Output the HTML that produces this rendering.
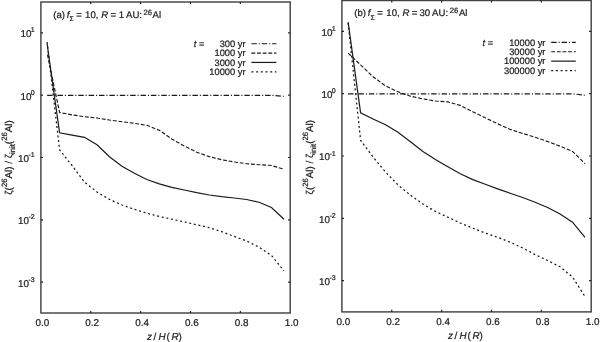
<!DOCTYPE html>
<html><head><meta charset="utf-8"><style>
html,body{margin:0;padding:0;background:#fff;}
svg{display:block;filter:grayscale(1);}
text{font-family:"Liberation Sans",sans-serif;fill:#222;text-rendering:geometricPrecision;stroke:#222;stroke-width:0.22px;}
.t{font-size:9.9px;}
.yt{font-size:9.9px;}
.sup{font-size:7px;}
.sup2{font-size:7.6px;}
.sub{font-size:6.8px;}
.yl{font-size:9.85px;}
.ys{font-size:7.7px;}
.lg{font-size:9.3px;}
.tt{font-size:9.6px;}
</style></head><body>
<svg width="600" height="342" viewBox="0 0 600 342">
<rect width="600" height="342" fill="#fff"/>
<rect x="40.90" y="2.00" width="249.30" height="311.00" fill="none" stroke="#444" stroke-width="1.45"/>
<path d="M40.90 32.90h2.1M290.20 32.90h-2.1" stroke="#222" stroke-width="1.2"/>
<path d="M40.90 95.20h2.1M290.20 95.20h-2.1" stroke="#222" stroke-width="1.2"/>
<path d="M40.90 157.50h2.1M290.20 157.50h-2.1" stroke="#222" stroke-width="1.2"/>
<path d="M40.90 219.80h2.1M290.20 219.80h-2.1" stroke="#222" stroke-width="1.2"/>
<path d="M40.90 282.10h2.1M290.20 282.10h-2.1" stroke="#222" stroke-width="1.2"/>
<path d="M90.76 313.00v-2.1M90.76 2.00v2.1" stroke="#222" stroke-width="1.2"/>
<path d="M140.62 313.00v-2.1M140.62 2.00v2.1" stroke="#222" stroke-width="1.2"/>
<path d="M190.48 313.00v-2.1M190.48 2.00v2.1" stroke="#222" stroke-width="1.2"/>
<path d="M240.34 313.00v-2.1M240.34 2.00v2.1" stroke="#222" stroke-width="1.2"/>
<text x="42.30" y="326.40" text-anchor="middle" class="t">0.0</text>
<text x="92.16" y="326.40" text-anchor="middle" class="t">0.2</text>
<text x="142.02" y="326.40" text-anchor="middle" class="t">0.4</text>
<text x="191.88" y="326.40" text-anchor="middle" class="t">0.6</text>
<text x="241.74" y="326.40" text-anchor="middle" class="t">0.8</text>
<text x="291.60" y="326.40" text-anchor="middle" class="t">1.0</text>
<text x="34.70" y="37.30" text-anchor="end" class="yt">10<tspan class="sup" dx="-0.6" dy="-4.9">1</tspan></text>
<text x="34.70" y="99.60" text-anchor="end" class="yt">10<tspan class="sup" dx="-0.6" dy="-4.9">0</tspan></text>
<text x="34.70" y="161.90" text-anchor="end" class="yt">10<tspan class="sup" dx="-0.6" dy="-4.9">-1</tspan></text>
<text x="34.70" y="224.20" text-anchor="end" class="yt">10<tspan class="sup" dx="-0.6" dy="-4.9">-2</tspan></text>
<text x="34.70" y="286.50" text-anchor="end" class="yt">10<tspan class="sup" dx="-0.6" dy="-4.9">-3</tspan></text>
<text x="147.10" y="339.90" class="t" font-style="italic">z</text>
<text x="153.50" y="339.90" class="t">/</text>
<text x="158.50" y="339.90" class="t" font-style="italic">H</text>
<text x="166.40" y="339.90" class="t">(</text>
<text x="171.40" y="339.90" class="t" font-style="italic">R</text>
<text x="178.40" y="339.90" class="t">)</text>
<text transform="translate(12.20,157.50) rotate(-90)" text-anchor="middle" class="yl">&#950;(<tspan class="ys" dy="-4.8">26</tspan><tspan dy="4.8">Al) / &#950;</tspan><tspan class="ys" dy="3.0">init</tspan><tspan dy="-3.0">(</tspan><tspan class="ys" dy="-4.8">26</tspan><tspan dy="4.8">Al)</tspan></text>
<polyline points="47.13,95.30 59.60,95.30 72.06,95.30 84.53,95.30 96.99,95.30 109.46,95.30 121.92,95.30 134.39,95.30 146.85,95.30 159.32,95.30 171.78,95.30 184.25,95.30 196.71,95.30 209.18,95.30 221.64,95.30 234.11,95.30 246.57,95.30 259.04,95.30 271.50,95.30 283.97,96.30" fill="none" stroke="#1a1a1a" stroke-width="1.15" stroke-dasharray="5.45 1.9 1.1 1.93"/>
<polyline points="47.13,53.00 59.60,112.50 72.06,114.90 84.53,116.70 96.99,118.00 109.46,120.00 121.92,121.70 134.39,123.30 146.85,125.30 159.32,130.30 171.78,139.00 184.25,146.00 196.71,152.20 209.18,156.60 221.64,159.70 234.11,162.00 246.57,163.70 259.04,164.70 271.50,165.50 283.97,169.20" fill="none" stroke="#1a1a1a" stroke-width="1.15" stroke-dasharray="3.85 1.8" stroke-dashoffset="-1.7"/>
<polyline points="47.13,44.00 59.60,132.80 72.06,135.10 84.53,137.30 96.99,144.70 109.46,156.80 121.92,166.30 134.39,173.30 146.85,179.50 159.32,183.90 171.78,187.40 184.25,190.00 196.71,192.70 209.18,195.00 221.64,196.70 234.11,198.00 246.57,199.50 259.04,202.20 271.50,207.50 283.97,219.20" fill="none" stroke="#1a1a1a" stroke-width="1.2"/>
<polyline points="47.13,42.00 59.60,149.80 72.06,165.50 84.53,182.20 96.99,192.00 109.46,199.40 121.92,205.00 134.39,209.30 146.85,213.20 159.32,216.50 171.78,219.20 184.25,221.90 196.71,224.80 209.18,227.60 221.64,231.70 234.11,236.40 246.57,241.00 259.04,247.20 271.50,255.50 283.97,270.80" fill="none" stroke="#1a1a1a" stroke-width="1.25" stroke-dasharray="2.0 2.7"/>
<text x="193.80" y="46.90" class="lg"><tspan font-style="italic">t</tspan> =</text>
<text x="245.50" y="46.90" text-anchor="end" class="lg">300 yr</text>
<path d="M251.40 43.70H276.40" fill="none" stroke="#1a1a1a" stroke-width="1.15" stroke-dasharray="5.45 1.9 1.1 1.93"/>
<text x="245.50" y="56.27" text-anchor="end" class="lg">1000 yr</text>
<path d="M251.40 53.07H276.40" fill="none" stroke="#1a1a1a" stroke-width="1.15" stroke-dasharray="3.85 1.8"/>
<text x="245.50" y="65.64" text-anchor="end" class="lg">3000 yr</text>
<path d="M251.40 62.44H276.40" fill="none" stroke="#1a1a1a" stroke-width="1.2"/>
<text x="245.50" y="75.01" text-anchor="end" class="lg">10000 yr</text>
<path d="M251.40 71.81H276.40" fill="none" stroke="#1a1a1a" stroke-width="1.25" stroke-dasharray="2.0 2.7"/>
<text x="53.20" y="18.00" class="tt">(a)</text>
<text x="66.70" y="18.00" class="tt" font-style="italic">f</text>
<text x="69.60" y="21.20" class="sub">&#931;</text>
<text x="76.20" y="18.00" class="tt">=</text>
<text x="85.05" y="18.00" class="tt">10,</text>
<text x="101.30" y="18.00" class="tt" font-style="italic">R</text>
<text x="110.50" y="18.00" class="tt">=</text>
<text x="118.80" y="18.00" class="tt">1</text>
<text x="126.00" y="18.00" class="tt">AU:</text>
<text x="143.50" y="14.70" class="sup2">26</text>
<text x="152.50" y="18.00" class="tt">Al</text>
<rect x="341.90" y="0.50" width="249.30" height="311.40" fill="none" stroke="#444" stroke-width="1.45"/>
<path d="M341.90 31.40h2.1M591.20 31.40h-2.1" stroke="#222" stroke-width="1.2"/>
<path d="M341.90 93.70h2.1M591.20 93.70h-2.1" stroke="#222" stroke-width="1.2"/>
<path d="M341.90 156.00h2.1M591.20 156.00h-2.1" stroke="#222" stroke-width="1.2"/>
<path d="M341.90 218.30h2.1M591.20 218.30h-2.1" stroke="#222" stroke-width="1.2"/>
<path d="M341.90 280.60h2.1M591.20 280.60h-2.1" stroke="#222" stroke-width="1.2"/>
<path d="M391.76 311.90v-2.1M391.76 0.50v2.1" stroke="#222" stroke-width="1.2"/>
<path d="M441.62 311.90v-2.1M441.62 0.50v2.1" stroke="#222" stroke-width="1.2"/>
<path d="M491.48 311.90v-2.1M491.48 0.50v2.1" stroke="#222" stroke-width="1.2"/>
<path d="M541.34 311.90v-2.1M541.34 0.50v2.1" stroke="#222" stroke-width="1.2"/>
<text x="343.30" y="325.30" text-anchor="middle" class="t">0.0</text>
<text x="393.16" y="325.30" text-anchor="middle" class="t">0.2</text>
<text x="443.02" y="325.30" text-anchor="middle" class="t">0.4</text>
<text x="492.88" y="325.30" text-anchor="middle" class="t">0.6</text>
<text x="542.74" y="325.30" text-anchor="middle" class="t">0.8</text>
<text x="592.60" y="325.30" text-anchor="middle" class="t">1.0</text>
<text x="335.70" y="35.80" text-anchor="end" class="yt">10<tspan class="sup" dx="-0.6" dy="-4.9">1</tspan></text>
<text x="335.70" y="98.10" text-anchor="end" class="yt">10<tspan class="sup" dx="-0.6" dy="-4.9">0</tspan></text>
<text x="335.70" y="160.40" text-anchor="end" class="yt">10<tspan class="sup" dx="-0.6" dy="-4.9">-1</tspan></text>
<text x="335.70" y="222.70" text-anchor="end" class="yt">10<tspan class="sup" dx="-0.6" dy="-4.9">-2</tspan></text>
<text x="335.70" y="285.00" text-anchor="end" class="yt">10<tspan class="sup" dx="-0.6" dy="-4.9">-3</tspan></text>
<text x="448.10" y="338.80" class="t" font-style="italic">z</text>
<text x="454.50" y="338.80" class="t">/</text>
<text x="459.50" y="338.80" class="t" font-style="italic">H</text>
<text x="467.40" y="338.80" class="t">(</text>
<text x="472.40" y="338.80" class="t" font-style="italic">R</text>
<text x="479.40" y="338.80" class="t">)</text>
<text transform="translate(312.90,157.20) rotate(-90)" text-anchor="middle" class="yl">&#950;(<tspan class="ys" dy="-4.8">26</tspan><tspan dy="4.8">Al) / &#950;</tspan><tspan class="ys" dy="3.0">init</tspan><tspan dy="-3.0">(</tspan><tspan class="ys" dy="-4.8">26</tspan><tspan dy="4.8">Al)</tspan></text>
<polyline points="348.13,93.80 360.60,93.80 373.06,93.80 385.53,93.80 397.99,93.80 410.46,93.80 422.92,93.80 435.39,93.80 447.85,93.80 460.32,93.80 472.78,93.80 485.25,93.80 497.71,93.80 510.18,93.80 522.64,93.80 535.11,93.80 547.57,93.80 560.04,93.80 572.50,93.80 584.97,95.30" fill="none" stroke="#1a1a1a" stroke-width="1.15" stroke-dasharray="5.45 1.9 1.1 1.93"/>
<polyline points="348.13,53.10 360.60,64.90 373.06,76.80 385.53,85.90 397.99,91.80 410.46,96.20 422.92,98.90 435.39,101.00 447.85,101.90 460.32,105.40 472.78,111.70 485.25,117.80 497.71,123.80 510.18,129.40 522.64,133.40 535.11,137.30 547.57,141.50 560.04,146.20 572.50,151.40 584.97,163.50" fill="none" stroke="#1a1a1a" stroke-width="1.15" stroke-dasharray="3.85 1.8"/>
<polyline points="348.13,22.20 360.60,112.80 373.06,119.00 385.53,124.80 397.99,132.20 410.46,141.80 422.92,151.50 435.39,159.40 447.85,166.70 460.32,173.70 472.78,179.60 485.25,184.20 497.71,188.90 510.18,193.30 522.64,197.50 535.11,202.20 547.57,207.50 560.04,214.00 572.50,222.20 584.97,237.40" fill="none" stroke="#1a1a1a" stroke-width="1.2"/>
<polyline points="348.13,23.00 360.60,140.30 373.06,157.00 385.53,172.00 397.99,184.90 410.46,195.20 422.92,204.00 435.39,211.40 447.85,217.20 460.32,223.00 472.78,228.20 485.25,233.00 497.71,237.30 510.18,242.20 522.64,248.00 535.11,254.60 547.57,260.50 560.04,266.80 572.50,277.00 584.97,296.50" fill="none" stroke="#1a1a1a" stroke-width="1.25" stroke-dasharray="2.0 2.7"/>
<text x="482.60" y="45.60" class="lg"><tspan font-style="italic">t</tspan> =</text>
<text x="545.40" y="45.60" text-anchor="end" class="lg">10000 yr</text>
<path d="M551.20 42.40H575.80" fill="none" stroke="#1a1a1a" stroke-width="1.15" stroke-dasharray="5.45 1.9 1.1 1.93"/>
<text x="545.40" y="54.97" text-anchor="end" class="lg">30000 yr</text>
<path d="M551.20 51.77H575.80" fill="none" stroke="#1a1a1a" stroke-width="1.15" stroke-dasharray="3.85 1.8"/>
<text x="545.40" y="64.34" text-anchor="end" class="lg">100000 yr</text>
<path d="M551.20 61.14H575.80" fill="none" stroke="#1a1a1a" stroke-width="1.2"/>
<text x="545.40" y="73.71" text-anchor="end" class="lg">300000 yr</text>
<path d="M551.20 70.51H575.80" fill="none" stroke="#1a1a1a" stroke-width="1.25" stroke-dasharray="2.0 2.7"/>
<text x="354.20" y="16.40" class="tt">(b)</text>
<text x="367.70" y="16.40" class="tt" font-style="italic">f</text>
<text x="370.60" y="19.60" class="sub">&#931;</text>
<text x="377.20" y="16.40" class="tt">=</text>
<text x="386.30" y="16.40" class="tt">10,</text>
<text x="402.60" y="16.40" class="tt" font-style="italic">R</text>
<text x="411.80" y="16.40" class="tt">=</text>
<text x="419.40" y="16.40" class="tt">30</text>
<text x="432.10" y="16.40" class="tt">AU:</text>
<text x="449.80" y="13.00" class="sup2">26</text>
<text x="458.90" y="16.40" class="tt">Al</text>
</svg>
</body></html>
